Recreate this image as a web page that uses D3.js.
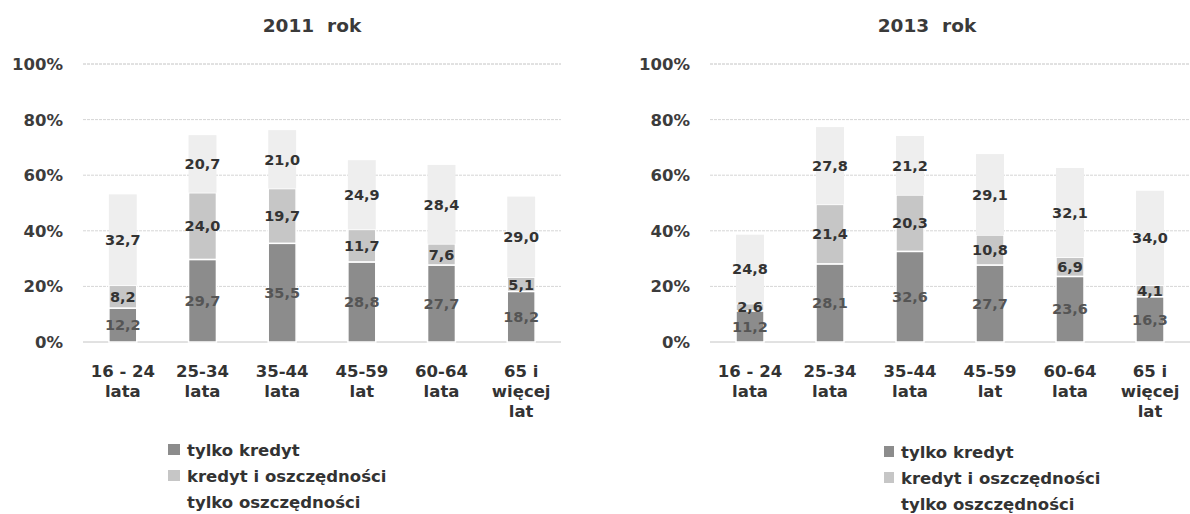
<!DOCTYPE html>
<html><head><meta charset="utf-8">
<script src="https://cdn.jsdelivr.net/npm/d3@7"></script>
<style>body{margin:0;background:#fff;} text{font-family:"DejaVu Sans",sans-serif;font-weight:bold;}</style>
</head><body><svg id="c" width="1190" height="514"></svg>
<script>
const categories = [["16 - 24","lata"],["25-34","lata"],["35-44","lata"],["45-59","lat"],["60-64","lata"],["65 i","więcej","lat"]];
const seriesNames = ["tylko kredyt","kredyt i oszczędności","tylko oszczędności"];
const credit2011 = [12.2,29.7,35.5,28.8,27.7,18.2];
const both2011 = [8.2,24.0,19.7,11.7,7.6,5.1];
const savings2011 = [32.7,20.7,21.0,24.9,28.4,29.0];
const credit2013 = [11.2,28.1,32.6,27.7,23.6,16.3];
const both2013 = [2.6,21.4,20.3,10.8,6.9,4.1];
const savings2013 = [24.8,27.8,21.2,29.1,32.1,34.0];
const yTicks = [0,20,40,60,80,100];
const titles = ["2011  rok","2013  rok"];

const colors = ["#8c8c8c","#c6c6c6","#eeeeee"];
const svg = d3.select("#c");

const panels = [
  {title:titles[0], data:[credit2011,both2011,savings2011], x0:83, x1:561, axisX:63, titleX:312, legX:168, legY:450, swW:12},
  {title:titles[1], data:[credit2013,both2013,savings2013], x0:710, x1:1190, axisX:690, titleX:927, legX:882, legY:452, swW:10}
];

panels.forEach(p=>{
  const g = svg.append("g");
  const y = d3.scaleLinear().domain([0,100]).range([342,64]);
  const x = d3.scaleBand().domain(categories.map((c,i)=>i)).range([p.x0,p.x1]).paddingInner(0.65).paddingOuter(0.325);
  g.selectAll("line.grid").data(yTicks).join("line")
    .attr("x1",p.x0).attr("x2",p.x1).attr("y1",d=>y(d)).attr("y2",d=>y(d))
    .attr("stroke",d=>d===100||d===0?"#c4c4c4":"#d6d6d6").attr("stroke-width",1)
    .attr("stroke-dasharray",d=>d===0?null:"3,1");
  g.selectAll("text.yl").data(yTicks).join("text")
    .attr("x",p.axisX).attr("y",d=>y(d)).attr("dy","0.36em").attr("text-anchor","end")
    .attr("font-size",16.5).attr("fill","#3c3c3c").text(d=>d+"%");
  const rows = categories.map((c,i)=>({i, a:p.data[0][i], b:p.data[1][i], c:p.data[2][i]}));
  const stack = d3.stack().keys(["a","b","c"])(rows);
  stack.forEach((layer,k)=>{
    g.selectAll(null).data(layer).join("rect")
      .attr("x",d=>x(d.data.i)).attr("width",x.bandwidth())
      .attr("y",d=>y(d[1])).attr("height",d=>y(d[0])-y(d[1]))
      .attr("fill",colors[k]).attr("stroke","#fff").attr("stroke-width",k===2?0:1.5);
  });
  stack.forEach((layer,k)=>{
    g.selectAll(null).data(layer).join("text")
      .attr("x",d=>x(d.data.i)+x.bandwidth()/2).attr("y",d=>y((d[0]+d[1])/2)).attr("dy","0.36em")
      .attr("text-anchor","middle").attr("font-size",14.5)
      .attr("fill",k===0?"#555":"#333")
      .text(d=>d3.format(".1f")(d[1]-d[0]).replace(".",","));
  });
  categories.forEach((lines,i)=>{
    const t = g.append("text").attr("text-anchor","middle").attr("font-size",16.5).attr("fill","#333");
    lines.forEach((s,j)=>t.append("tspan").attr("x",x(i)+x.bandwidth()/2).attr("y",377+j*20).text(s));
  });
  g.append("text").attr("x",p.titleX).attr("y",32).attr("text-anchor","middle").style("white-space","pre")
    .attr("font-size",18.5).attr("fill","#3a3a3a").text(p.title);
  seriesNames.forEach((s,k)=>{
    const yy = p.legY + k*26;
    g.append("rect").attr("x",p.legX+(12-p.swW)).attr("y",yy-6).attr("width",p.swW).attr("height",11).attr("fill",k===2?"#fff":colors[k]);
    g.append("text").attr("x",p.legX+19).attr("y",yy).attr("dy","0.36em").attr("font-size",16.5).attr("fill","#333").text(s);
  });
});
</script></body></html>
